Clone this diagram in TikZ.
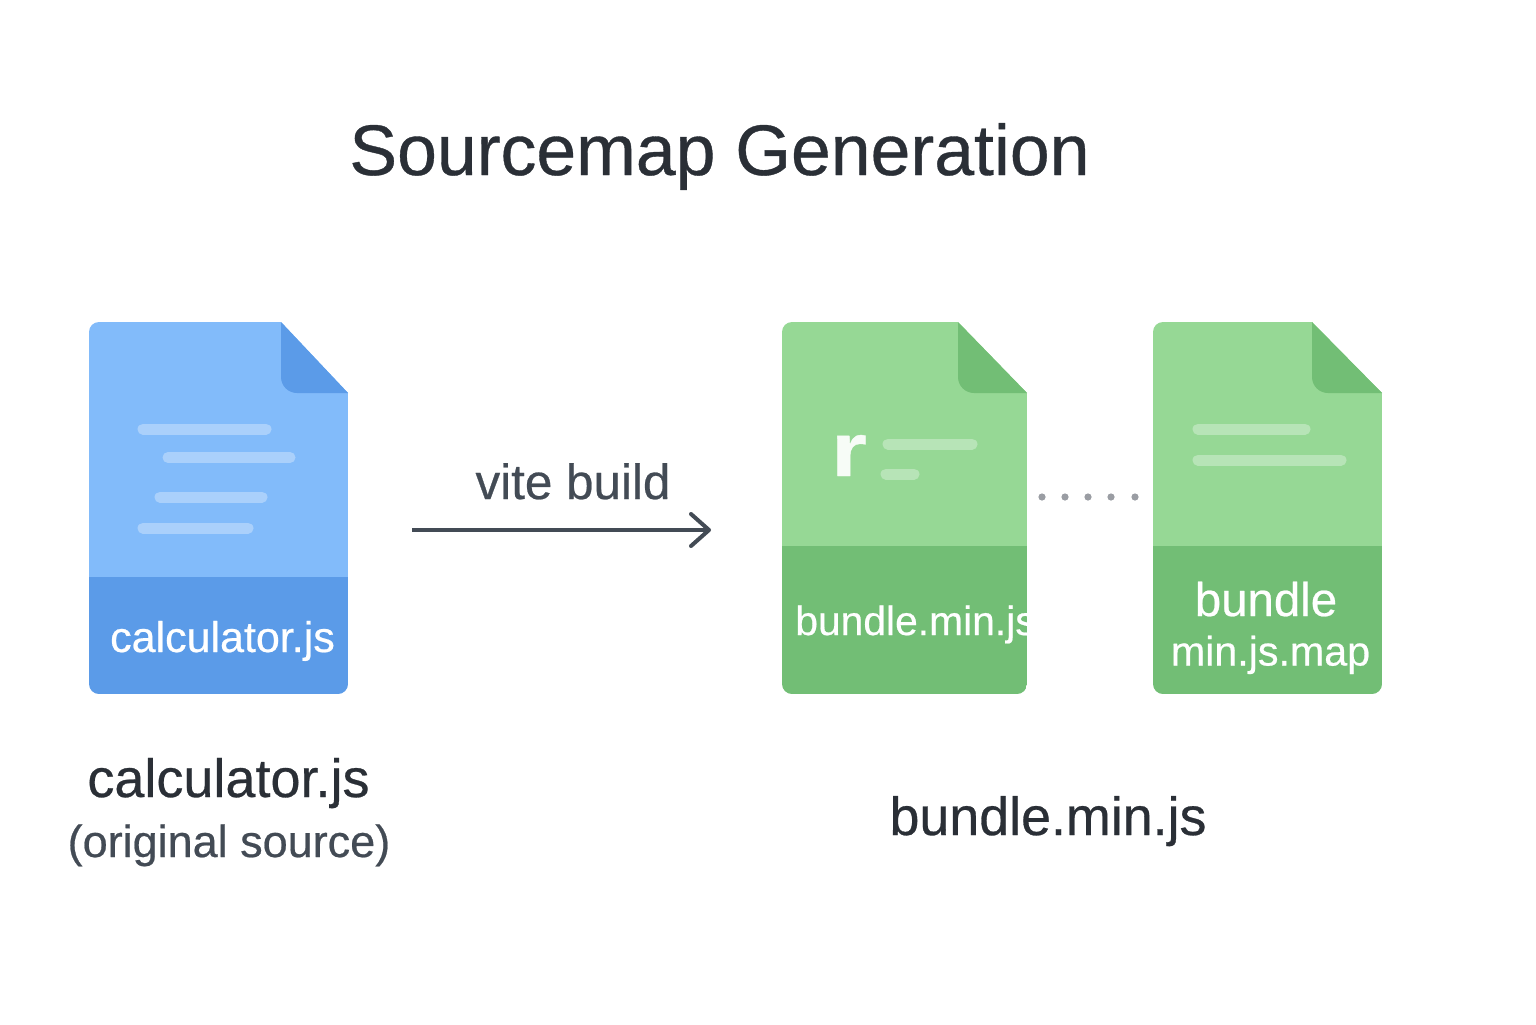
\documentclass[tikz,border=0pt]{standalone}
\usepackage{fontspec}
\setmainfont{Liberation Sans}[RawFeature={embolden=0.5}]
\usetikzlibrary{arrows.meta}
\definecolor{bluelight}{HTML}{82BBFA}
\definecolor{bluedark}{HTML}{5B9BE8}
\definecolor{greenlight}{HTML}{96D895}
\definecolor{greendark}{HTML}{72BE75}
\definecolor{inkdark}{HTML}{2A2F36}
\definecolor{inkgrey}{HTML}{434B55}
\definecolor{dotgrey}{HTML}{9A9DA3}
\tikzset{
	label/.style n args = {2}{inner sep = 0, anchor = base, text = #2, font = \fontsize{#1}{#1}\selectfont},
	textbar/.style = {white, opacity = 0.32, line width = 5.5pt, line cap = round},
	sepdot/.style = {circle, fill = dotgrey, inner sep = 0, minimum size = 3.6pt},
}
% left, right, fold x, band top, light colour, dark colour
\newcommand{\docsheet}[6]{
	\def\body{(#1,694) -- (#1,322) [sharp corners] -- (#3,322) -- (#2,393) [rounded corners = 5pt] -- (#2,694) -- cycle}
	\begin{scope}
		\clip[rounded corners = 5pt] \body;
		\fill[#5] (#1,322) rectangle (#2,#4);
		\fill[#6] (#1,#4) rectangle (#2,694);
	\end{scope}
	\fill[#6] (#3,322) -- (#2,393) [rounded corners = 8pt] -- (#3,393) [sharp corners] -- cycle;
}

\begin{document}
\begin{tikzpicture}[x = 0.5pt, y = -0.5pt]
	\useasboundingbox (0,0) rectangle (1536,1024);

	\node[label = {35.8}{inkdark}] (title) at (719.5,175) {Sourcemap Generation};

	% source file
	\docsheet{89}{348}{281}{577}{bluelight}{bluedark}
	\draw[textbar] (143,429) -- (266,429);
	\draw[textbar] (168,457.5) -- (290,457.5);
	\draw[textbar] (160,497) -- (262,497);
	\draw[textbar] (143,528) -- (248,528);
	\node[label = {21.5}{white}] (srctag) at (222.5,652) {calculator.js};

	\node[label = {27}{inkdark}] (srcname) at (228.5,797) {calculator.js};
	\node[label = {22.5}{inkgrey}] (srcnote) at (229,857) {(original source)};

	% build step
	\coordinate (buildfrom) at (412,530);
	\coordinate (buildto) at (711,530);
	\draw[-{Straight Barb[length = 9pt, width = 16pt, round]}, inkgrey, line width = 2pt] (buildfrom) -- (buildto);
	\node[label = {24.7}{inkgrey}] (buildtag) at (573,499) {vite build};

	% bundle
	\docsheet{782}{1027}{958}{546}{greenlight}{greendark}
	\node[label = {38}{white!92!greenlight}, font = \fontsize{38}{38}\selectfont\bfseries, xscale = 1.2, transform shape] (bundler) at (849,476) {r};
	\draw[textbar] (888,444) -- (972,444);
	\draw[textbar] (886,474) -- (914,474);
	\begin{scope}
		\clip (782,546) rectangle (1027,694);
		\node[label = {20.4}{white}] (bundletag) at (915.5,635) {bundle.min.js};
	\end{scope}

	% dots between the two files
	\foreach \i/\x in {1/1042, 2/1065, 3/1088, 4/1111, 5/1135}
		\node[sepdot] (dot\i) at (\x,497) {};

	% map
	\docsheet{1153}{1382}{1312}{546}{greenlight}{greendark}
	\draw[textbar] (1198,429) -- (1305,429);
	\draw[textbar] (1198,460) -- (1341,460);
	\node[label = {23.7}{white}] (maptag) at (1266,616) {bundle};
	\node[label = {20.6}{white}] (mapext) at (1270.5,665.5) {min.js.map};

	\node[label = {26.9}{inkdark}] (bundlename) at (1048,835) {bundle.min.js};
\end{tikzpicture}
\end{document}
